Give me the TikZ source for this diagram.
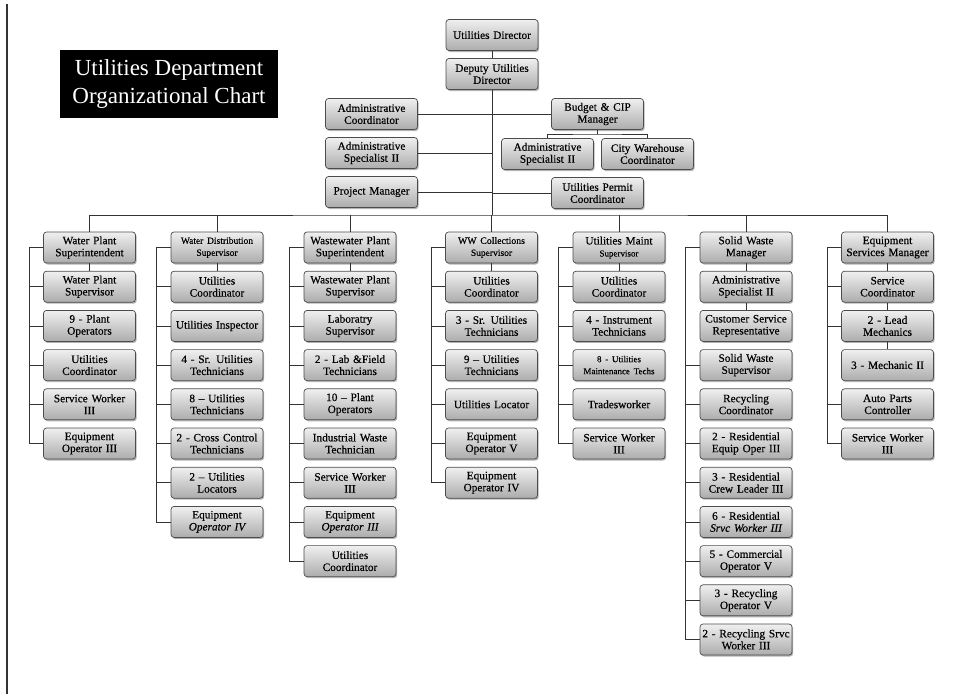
\documentclass[tikz,border=0pt]{standalone}
\usepackage{fontspec}
\setmainfont{Liberation Serif}
\newfontfamily\boxfont{Liberation Serif}[FakeBold=0.35]
\usetikzlibrary{shadows}
\begin{document}
\begin{tikzpicture}[x=1pt,y=-1pt,
  box/.style={draw=black!70, line width=0.7pt, rounded corners=3pt, top color=gray!12, bottom color=gray!65,
    minimum width=92pt, minimum height=31pt, text width=90pt, align=center, inner sep=0pt,
    font=\boxfont\fontsize{11.3}{12}\selectfont,
    drop shadow={shadow xshift=1.2pt, shadow yshift=-1.5pt, fill=black!50, opacity=0.6}},
  ln/.style={draw=black!80, line width=0.75pt}]
\useasboundingbox (0,0) rectangle (956,694);

% left border
\draw[line width=1.1pt, black!80] (7,4) -- (7,694);

% title
\node[fill=black, text=white, minimum width=218pt, minimum height=68pt, align=center,
  font=\fontsize{23}{28}\selectfont, inner sep=0pt] (title) at (169,84)
  {Utilities Department\\Organizational Chart};

% top
\node[box] (dir) at (492,35) {Utilities Director};
\node[box] (dep) at (492,74) {Deputy Utilities\\Director};
\node[box] (adco) at (371.5,114) {Administrative\\Coordinator};
\node[box] (adsp) at (371.5,153) {Administrative\\Specialist II};
\node[box] (pm) at (371.5,192) {Project Manager};
\node[box] (bud) at (597.5,114) {Budget \& CIP\\Manager};
\node[box] (adsp2) at (547.5,154) {Administrative\\Specialist II};
\node[box] (cwc) at (647.5,154) {City Warehouse\\Coordinator};
\node[box] (upc) at (597.5,193) {Utilities Permit\\Coordinator};

\coordinate (bus) at (492,215);
\coordinate (bk) at (597.5,134);
\draw[ln] (dir) -- (dep);
\draw[ln] (dep.south) -- (bus);
\foreach \n in {adco,adsp,pm} \draw[ln] (\n.east) -- (\n.east -| bus);
\foreach \n in {bud,upc} \draw[ln] (\n.west) -- (\n.west -| bus);
\draw[ln] (bud.south) -- (bk);
\draw[ln] (adsp2.north) |- (bk) -| (cwc.north);

% columns
\foreach \t [count=\i from 0] in {{Water Plant\\Superintendent},{Water Plant\\Supervisor},{9 - Plant\\Operators},{Utilities\\Coordinator},{Service Worker\\III},{Equipment\\Operator III}}
  \node[box] (A\i) at (89.5,247.5+39.2*\i) {\t};
\foreach \t [count=\i from 0] in {{\fontsize{9.5}{11}\selectfont Water Distribution\\\fontsize{9.5}{11}\selectfont Supervisor},{Utilities\\Coordinator},{Utilities Inspector},{4 - Sr. Utilities\\Technicians},{8 – Utilities\\Technicians},{2 - Cross Control\\Technicians},{2 – Utilities\\Locators},{Equipment\\\itshape Operator IV}}
  \node[box] (B\i) at (217,247.5+39.2*\i) {\t};
\foreach \t [count=\i from 0] in {{Wastewater Plant\\Superintendent},{Wastewater Plant\\Supervisor},{Laboratry\\Supervisor},{2 - Lab \&Field\\Technicians},{10 – Plant\\Operators},{Industrial Waste\\Technician},{Service Worker\\III},{Equipment\\\itshape Operator III},{Utilities\\Coordinator}}
  \node[box] (C\i) at (350,247.5+39.2*\i) {\t};
\foreach \t [count=\i from 0] in {{\fontsize{9.8}{11}\selectfont WW Collections\\\fontsize{9.5}{11}\selectfont Supervisor},{Utilities\\Coordinator},{3 - Sr. Utilities\\Technicians},{9 – Utilities\\Technicians},{Utilities Locator},{Equipment\\Operator V},{Equipment\\Operator IV}}
  \node[box] (D\i) at (491.5,247.5+39.2*\i) {\t};
\foreach \t [count=\i from 0] in {{Utilities Maint\\\fontsize{9}{11}\selectfont Supervisor},{Utilities\\Coordinator},{4 - Instrument\\Technicians},{\fontsize{9}{11}\selectfont 8 - Utilities\\\fontsize{9}{11}\selectfont Maintenance Techs},{Tradesworker},{Service Worker\\III}}
  \node[box] (E\i) at (619,247.5+39.2*\i) {\t};
\foreach \t [count=\i from 0] in {{Solid Waste\\Manager},{Administrative\\Specialist II},{Customer Service\\Representative},{Solid Waste\\Supervisor},{Recycling\\Coordinator},{2 - Residential\\Equip Oper III},{3 - Residential\\Crew Leader III},{6 - Residential\\\itshape Srvc Worker III},{5 - Commercial\\Operator V},{3 - Recycling\\Operator V},{2 - Recycling Srvc\\Worker III}}
  \node[box] (F\i) at (746,247.5+39.2*\i) {\t};
\foreach \t [count=\i from 0] in {{Equipment\\Services Manager},{Service\\Coordinator},{2 - Lead\\Mechanics},{3 - Mechanic II},{Auto Parts\\Controller},{Service Worker\\III}}
  \node[box] (G\i) at (887.5,247.5+39.2*\i) {\t};

% bus and drops
\draw[ln] (A0.north) |- (bus) -| (G0.north);
\foreach \n in {B0,C0,D0,E0,F0} \draw[ln] (\n.north) -- (\n.north |- bus);

% spines
\draw[ln] (A0.west) -- ++(-14,0) |- (A5.west);
\foreach \i in {1,...,4} \draw[ln] (A\i.west) -- ++(-14,0);
\draw[ln] (B0.west) -- ++(-14,0) |- (B7.west);
\foreach \i in {1,...,6} \draw[ln] (B\i.west) -- ++(-14,0);
\draw[ln] (C0.west) -- ++(-14,0) |- (C8.west);
\foreach \i in {1,...,7} \draw[ln] (C\i.west) -- ++(-14,0);
\draw[ln] (D0.west) -- ++(-14,0) |- (D6.west);
\foreach \i in {1,...,5} \draw[ln] (D\i.west) -- ++(-14,0);
\draw[ln] (E0.west) -- ++(-14,0) |- (E5.west);
\foreach \i in {1,...,4} \draw[ln] (E\i.west) -- ++(-14,0);
\draw[ln] (F0.west) -- ++(-14,0) |- (F10.west);
\foreach \i in {3,...,9} \draw[ln] (F\i.west) -- ++(-14,0);
\draw[ln] (G0.west) -- ++(-14,0) |- (G5.west);
\foreach \i in {1,2,4} \draw[ln] (G\i.west) -- ++(-14,0);

% direct links
\draw[ln] (A0.south) -- (A1.north);
\draw[ln] (B0.south) -- (B1.north);
\draw[ln] (C0.south) -- (C1.north);
\draw[ln] (D0.south) -- (D1.north);
\draw[ln] (E0.south) -- (E1.north);
\draw[ln] (F0.south) -- (F1.north);
\draw[ln] (F1.south) -- (F2.north);
\draw[ln] (G0.south) -- (G1.north);
\draw[ln] (G1.south) -- (G2.north);
\draw[ln] (G2.south) -- (G3.north);
\end{tikzpicture}
\end{document}
